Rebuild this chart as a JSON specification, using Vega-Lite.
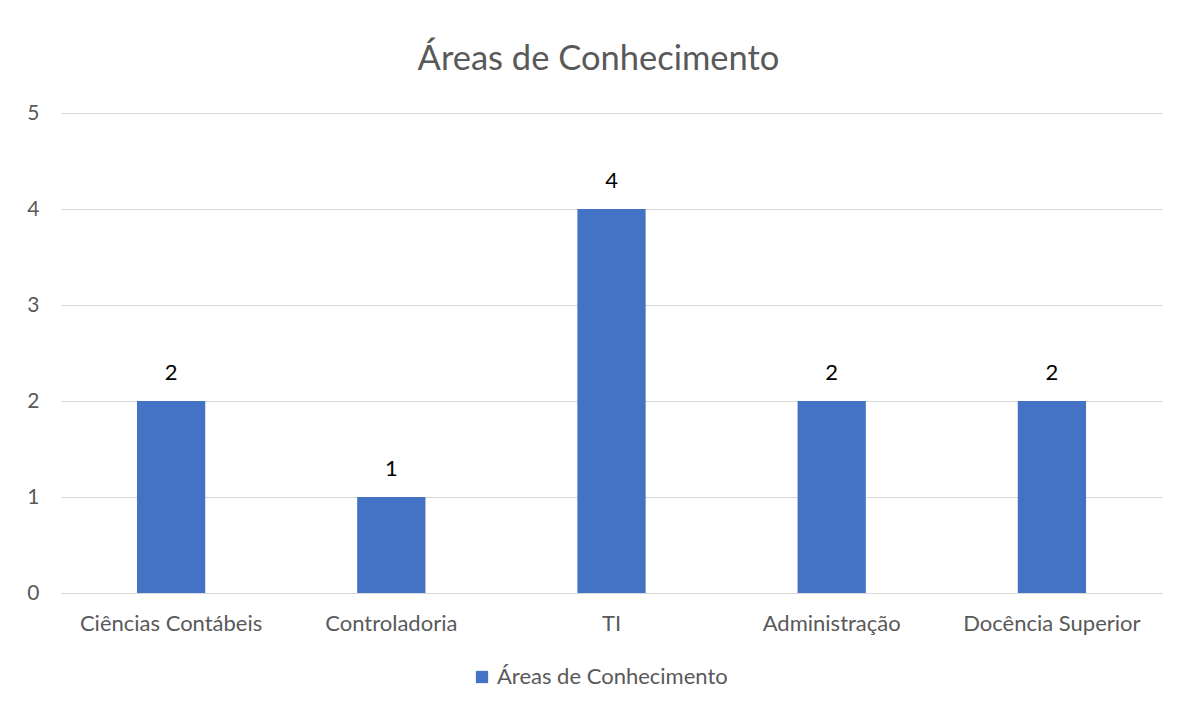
{
  "$schema": "https://vega.github.io/schema/vega-lite/v6.json",
  "width": 1101,
  "height": 480,
  "autosize": {"type": "none"},
  "padding": {"left": 61, "top": 113, "right": 17, "bottom": 113},
  "background": "white",
  "title": {
    "text": "Áreas de Conhecimento",
    "font": "Lato",
    "fontSize": 34.5,
    "fontWeight": "normal",
    "color": "#595959",
    "anchor": "middle",
    "dx": -13,
    "offset": -2,
    "baseline": "alphabetic"
  },
  "data": {
    "values": [
      {"area": "Ciências Contábeis", "valor": 2, "serie": "Áreas de Conhecimento"},
      {"area": "Controladoria", "valor": 1, "serie": "Áreas de Conhecimento"},
      {"area": "TI", "valor": 4, "serie": "Áreas de Conhecimento"},
      {"area": "Administração", "valor": 2, "serie": "Áreas de Conhecimento"},
      {"area": "Docência Superior", "valor": 2, "serie": "Áreas de Conhecimento"}
    ]
  },
  "encoding": {
    "x": {
      "field": "area",
      "type": "nominal",
      "sort": null,
      "scale": {"paddingInner": 0.69, "paddingOuter": 0.345},
      "axis": {
        "title": null,
        "labelAngle": 0,
        "ticks": false,
        "domainColor": "#d9d9d9",
        "domainWidth": 1,
        "labelPadding": 20,
        "labelFont": "Lato",
        "labelFontSize": 22,
        "labelColor": "#595959",
        "labelLimit": 300
      }
    },
    "y": {
      "field": "valor",
      "type": "quantitative",
      "scale": {"domain": [0, 5]},
      "axis": {
        "title": null,
        "values": [0, 1, 2, 3, 4, 5],
        "domain": false,
        "ticks": false,
        "gridColor": "#d9d9d9",
        "gridWidth": 1,
        "labelPadding": 22,
        "labelFont": "Lato",
        "labelFontSize": 21,
        "labelColor": "#595959"
      }
    }
  },
  "layer": [
    {
      "mark": {"type": "bar"},
      "encoding": {
        "color": {
          "field": "serie",
          "type": "nominal",
          "scale": {"range": ["#4472C4"]},
          "legend": {
            "title": null,
            "orient": "none",
            "legendX": 410,
            "legendY": 553,
            "direction": "horizontal",
            "symbolType": "square",
            "symbolSize": 150,
            "symbolStrokeWidth": 0,
            "labelFont": "Lato",
            "labelFontSize": 22,
            "labelColor": "#595959",
            "labelLimit": 400,
            "labelOffset": 4,
            "padding": 0
          }
        }
      }
    },
    {
      "mark": {"type": "text", "baseline": "bottom", "dy": -16, "font": "Lato", "fontSize": 22, "color": "#000000"},
      "encoding": {"text": {"field": "valor", "type": "quantitative"}}
    }
  ],
  "config": {"view": {"stroke": null}}
}
